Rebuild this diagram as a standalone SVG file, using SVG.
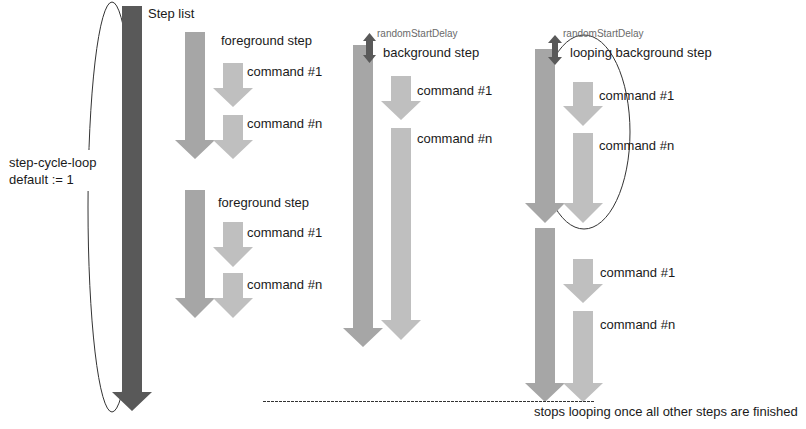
<svg xmlns="http://www.w3.org/2000/svg" width="806" height="429" viewBox="0 0 806 429">
<style>
.dark{fill:#595959}
.mid{fill:#a6a6a6}
.light{fill:#bfbfbf}
.t{font-family:"Liberation Sans",Arial,sans-serif;font-size:13px;fill:#1a1a1a}
.s{font-family:"Liberation Sans",Arial,sans-serif;font-size:10px;fill:#6a6a6a}
.loop{fill:none;stroke:#333;stroke-width:1}
</style>
<rect width="806" height="429" fill="#fff"/>
<g id="loops">
<ellipse class="loop" cx="112" cy="207" rx="24" ry="205"/>
<ellipse class="loop" cx="584" cy="132" rx="46" ry="97"/>
</g>
<g id="step-list">
<polygon class="dark" points="122,6 142,6 142,392 152,392 132,411 112,392 122,392"/>
<text class="t" x="148" y="18">Step list</text>
</g>
<g id="step-cycle-loop">
<rect x="4" y="150" width="90" height="41" fill="#fff"/>
<text class="t" x="9" y="167">step-cycle-loop</text>
<text class="t" x="9" y="184">default := 1</text>
</g>
<g id="foreground-step-1">
<polygon class="mid" points="185,32 205,32 205,140 215,140 195,159 175,140 185,140"/>
<polygon class="light" points="223,63 243,63 243,88 253,88 233,107 213,88 223,88"/>
<polygon class="light" points="223,115 243,115 243,140 253,140 233,159 213,140 223,140"/>
<text class="t" x="221" y="45">foreground step</text>
<text class="t" x="247" y="76">command #1</text>
<text class="t" x="247" y="128">command #n</text>
</g>
<g id="foreground-step-2">
<polygon class="mid" points="185,190 205,190 205,298 215,298 195,318 175,298 185,298"/>
<polygon class="light" points="223,222 243,222 243,247 253,247 233,267 213,247 223,247"/>
<polygon class="light" points="223,273 243,273 243,298 253,298 233,318 213,298 223,298"/>
<text class="t" x="218" y="207">foreground step</text>
<text class="t" x="247" y="237">command #1</text>
<text class="t" x="247" y="289">command #n</text>
</g>
<g id="background-step">
<polygon class="mid" points="353,45 373,45 373,328 383,328 363,347 343,328 353,328"/>
<polygon class="light" points="391,76 411,76 411,101 421,101 401,120 381,101 391,101"/>
<polygon class="light" points="391,128 411,128 411,320 421,320 401,340 381,320 391,320"/>
<polygon class="dark" points="369.5,33 376,41 373,41 373,55 376,55 369.5,63 363,55 366,55 366,41 363,41"/>
<text class="s" x="377" y="37">randomStartDelay</text>
<text class="t" x="383" y="57">background step</text>
<text class="t" x="417" y="95">command #1</text>
<text class="t" x="417" y="143">command #n</text>
</g>
<g id="looping-background-step">
<polygon class="mid" points="535,49 555,49 555,203 565,203 545,223 525,203 535,203"/>
<polygon class="light" points="573,82 593,82 593,106 603,106 583,126 563,106 573,106"/>
<polygon class="light" points="573,133 593,133 593,203 603,203 583,223 563,203 573,203"/>
<polygon class="dark" points="555,35 562,43 558,43 558,57 562,57 555,65 548,57 552,57 552,43 548,43"/>
<text class="s" x="563" y="37">randomStartDelay</text>
<text class="t" x="570" y="57">looping background step</text>
<text class="t" x="599" y="100">command #1</text>
<text class="t" x="599" y="150">command #n</text>
</g>
<g id="looping-background-step-repeat">
<polygon class="mid" points="535,228 555,228 555,383 565,383 545,402 525,383 535,383"/>
<polygon class="light" points="573,259 593,259 593,284 603,284 583,303 563,284 573,284"/>
<polygon class="light" points="573,311 593,311 593,383 603,383 583,402 563,383 573,383"/>
<text class="t" x="600" y="277">command #1</text>
<text class="t" x="600" y="329">command #n</text>
</g>
<g id="connectors">
<line x1="263" y1="401.5" x2="595" y2="401.5" stroke="#333" stroke-width="1" stroke-dasharray="3,1"/>
</g>
<g id="finish-note">
<text class="t" x="534" y="416">stops looping once all other steps are finished</text>
</g>
</svg>
